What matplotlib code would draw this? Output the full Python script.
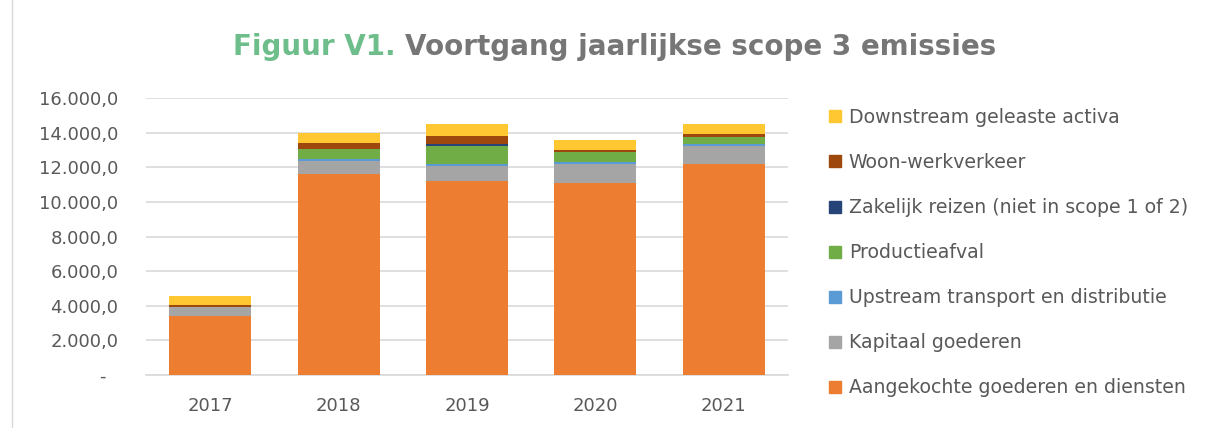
import matplotlib.pyplot as plt
from matplotlib.lines import Line2D
import numpy as np

years = ["2017", "2018", "2019", "2020", "2021"]

# stacked from the bottom up
series = [
    "Aangekochte goederen en diensten",
    "Kapitaal goederen",
    "Upstream transport en distributie",
    "Productieafval",
    "Zakelijk reizen (niet in scope 1 of 2)",
    "Woon-werkverkeer",
    "Downstream geleaste activa",
]
aangekocht = [3430, 11600, 11230, 11080, 12180]
kapitaal = [520, 750, 870, 1100, 1040]
upstream = [0, 120, 80, 150, 120]
afval = [0, 580, 1060, 560, 400]
zakelijk = [0, 0, 110, 0, 20]
woonwerk = [100, 345, 480, 110, 170]
downstream = [520, 580, 660, 580, 580]
values = [aangekocht, kapitaal, upstream, afval, zakelijk, woonwerk, downstream]
colors = ["#ED7D31", "#A5A5A5", "#5B9BD5", "#70AD47", "#264478", "#9E480E", "#FFC832"]

fig = plt.figure(figsize=(12.14, 4.28), dpi=100)
ax = fig.add_axes([146 / 1214, 1 - 375 / 428, (788 - 146) / 1214, (375 - 98) / 428])

x = np.arange(len(years))
bottom = np.zeros(len(years))
for name, vals, c in zip(series, values, colors):
    ax.bar(x, vals, 0.64, bottom=bottom, color=c, label=name, zorder=3)
    bottom += np.array(vals)

ax.set_xlim(-0.5, len(years) - 0.5)
ax.set_ylim(0, 16000)
ax.set_yticks(range(0, 16001, 2000))
ax.set_yticklabels(["-  "] + [f"{v:,.1f}".replace(",", "X").replace(".", ",").replace("X", ".")
                              for v in range(2000, 16001, 2000)])
ax.set_xticks(x)
ax.set_xticklabels(years)
ax.grid(axis="y", color="#D9D9D9", linewidth=1.2, zorder=0)
for s in ["top", "right", "left"]:
    ax.spines[s].set_visible(False)
ax.spines["bottom"].set_color("#D9D9D9")
ax.spines["bottom"].set_linewidth(1.2)
ax.tick_params(length=0, labelsize=13, colors="#595959")
ax.tick_params(axis="x", pad=16)
ax.tick_params(axis="y", pad=20)

handles = [Line2D([], [], marker="s", linestyle="none", markersize=9, color=c)
           for c in colors]
leg = fig.legend(handles[::-1], series[::-1], loc="upper left",
                 bbox_to_anchor=(809 / 1214, 1 - 91 / 428), frameon=False,
                 fontsize=13.6, labelspacing=1.38, handletextpad=0.2,
                 handlelength=1.0)
for t in leg.get_texts():
    t.set_color("#595959")

fig.text(396 / 1214, 1 - 47 / 428, "Figuur V1.", color="#6DBE8A", fontsize=20,
         fontweight="bold", ha="right", va="center")
fig.text(405 / 1214, 1 - 47 / 428, "Voortgang jaarlijkse scope 3 emissies",
         color="#767676", fontsize=20, fontweight="bold", ha="left", va="center")

fig.add_artist(Line2D([12 / 1214, 12 / 1214], [0, 1], color="#D9D9D9", linewidth=1))

fig.savefig("out.png", dpi=100)
